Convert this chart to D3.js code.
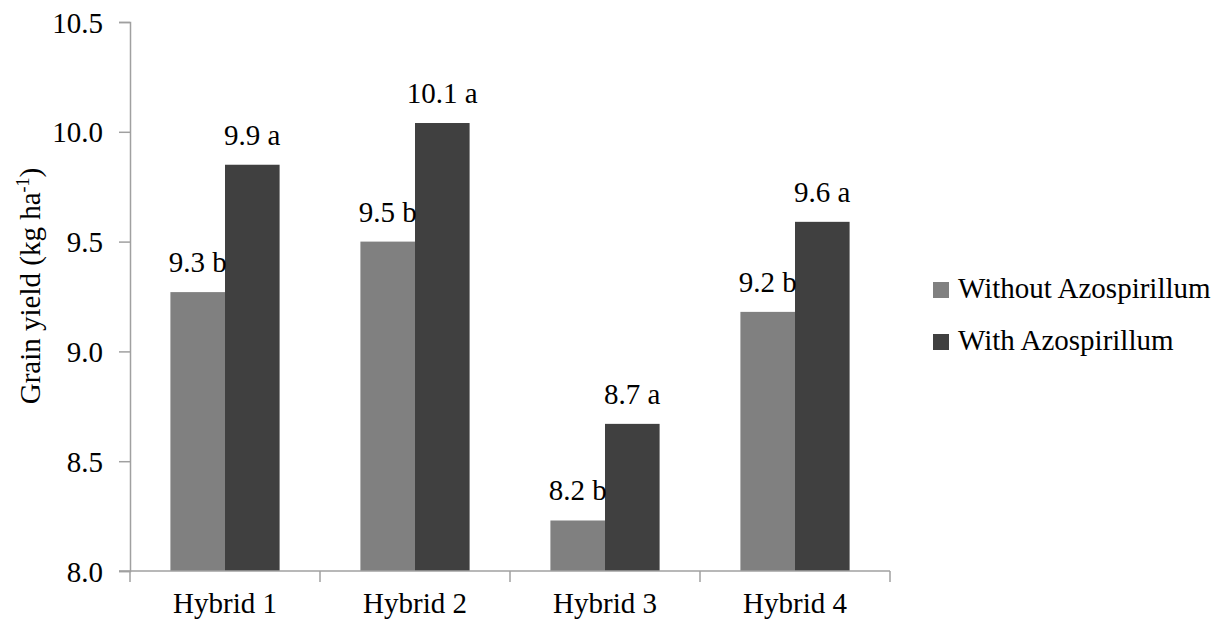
<!DOCTYPE html>
<html>
<head>
<meta charset="utf-8">
<script src="https://cdn.jsdelivr.net/npm/d3@7/dist/d3.min.js"></script>
<style>
  html, body { margin: 0; padding: 0; background: #ffffff; }
  svg { display: block; }
</style>
</head>
<body>
<svg id="chart" width="1225" height="621"></svg>
<script>
// ---- data ----
const categories = ["Hybrid 1", "Hybrid 2", "Hybrid 3", "Hybrid 4"];
const seriesNames = ["Without Azospirillum", "With Azospirillum"];
const withoutValues = [9.27, 9.50, 8.23, 9.18];
const withValues = [9.85, 10.04, 8.67, 9.59];
const withoutLabels = ["9.3 b", "9.5 b", "8.2 b", "9.2 b"];
const withLabels = ["9.9 a", "10.1 a", "8.7 a", "9.6 a"];
const yTicks = [8.0, 8.5, 9.0, 9.5, 10.0, 10.5];
const colors = ["#808080", "#404040"];

const svg = d3.select("#chart");
const FS = 29;
const FONT = "Liberation Serif, Times New Roman, serif";

const plot = { left: 130, right: 890, top: 22, bottom: 571 };

const y = d3.scaleLinear().domain([8.0, 10.5]).range([plot.bottom, plot.top]);
const x0 = d3.scaleBand().domain(categories).range([plot.left, plot.right]).paddingInner(0).paddingOuter(0);
const x1 = d3.scaleBand().domain(seriesNames).range([0, x0.bandwidth()]).paddingInner(0).paddingOuter(0.74);

const axisColor = "#a0a0a0";

// y axis
const yAxis = svg.append("g")
  .attr("transform", `translate(${plot.left},0)`)
  .call(d3.axisLeft(y).tickValues(yTicks).tickSize(11).tickPadding(16).tickFormat(d3.format(".1f")));
yAxis.attr("font-family", FONT).attr("font-size", FS);
yAxis.select(".domain").attr("stroke", axisColor).attr("stroke-width", 1.5);
yAxis.selectAll(".tick line").attr("stroke", axisColor).attr("stroke-width", 1.5);
yAxis.selectAll(".tick text")
  .attr("dy", null)
  .attr("fill", "#000")
  .attr("dominant-baseline", "central");

// bars
const data = categories.map((c, i) => ({
  cat: c,
  vals: [
    { s: seriesNames[0], v: withoutValues[i], label: withoutLabels[i], color: colors[0] },
    { s: seriesNames[1], v: withValues[i], label: withLabels[i], color: colors[1] }
  ]
}));

const groups = svg.append("g").selectAll("g")
  .data(data).join("g")
  .attr("transform", d => `translate(${x0(d.cat)},0)`);

groups.selectAll("rect")
  .data(d => d.vals).join("rect")
  .attr("x", d => x1(d.s))
  .attr("width", x1.bandwidth())
  .attr("y", d => y(d.v))
  .attr("height", d => y(8.0) - y(d.v))
  .attr("fill", d => d.color);

groups.selectAll("text.val")
  .data(d => d.vals).join("text")
  .attr("class", "val")
  .attr("text-anchor", "middle")
  .attr("font-size", FS)
  .attr("font-family", FONT)
  .attr("x", d => x1(d.s) + x1.bandwidth() / 2)
  .attr("y", d => y(d.v) - 20)
  .text(d => d.label);

// x axis
const xAxisG = svg.append("g");
xAxisG.append("line")
  .attr("x1", plot.left - 11).attr("x2", plot.right)
  .attr("y1", y(8.0)).attr("y2", y(8.0))
  .attr("stroke", axisColor).attr("stroke-width", 1.5);
const boundaries = categories.map(c => x0(c)).concat([x0.range()[1]]);
xAxisG.selectAll("line.tick")
  .data(boundaries).join("line")
  .attr("class", "tick")
  .attr("x1", d => d).attr("x2", d => d)
  .attr("y1", y(8.0)).attr("y2", y(8.0) + 11)
  .attr("stroke", axisColor).attr("stroke-width", 1.5);
xAxisG.selectAll("text")
  .data(categories).join("text")
  .attr("text-anchor", "middle")
  .attr("font-size", FS)
  .attr("font-family", FONT)
  .attr("x", d => x0(d) + x0.bandwidth() / 2)
  .attr("y", 613)
  .text(d => d);

// y axis title
const title = svg.append("text")
  .attr("transform", "translate(40,286) rotate(-90)")
  .attr("text-anchor", "middle")
  .attr("font-family", FONT)
  .attr("font-size", FS);
title.append("tspan").text("Grain yield (kg ha");
title.append("tspan").attr("font-size", 18).attr("dy", -11).text("-1");
title.append("tspan").attr("dy", 11).text(")");

// legend
const legend = svg.append("g").selectAll("g")
  .data(seriesNames).join("g")
  .attr("transform", (d, i) => `translate(933,${298 + i * 52})`);
legend.append("rect")
  .attr("x", 0).attr("y", -16)
  .attr("width", 16).attr("height", 16)
  .attr("fill", (d, i) => colors[i]);
legend.append("text")
  .attr("font-size", FS)
  .attr("font-family", FONT)
  .attr("x", 25)
  .text(d => d);
</script>
</body>
</html>
